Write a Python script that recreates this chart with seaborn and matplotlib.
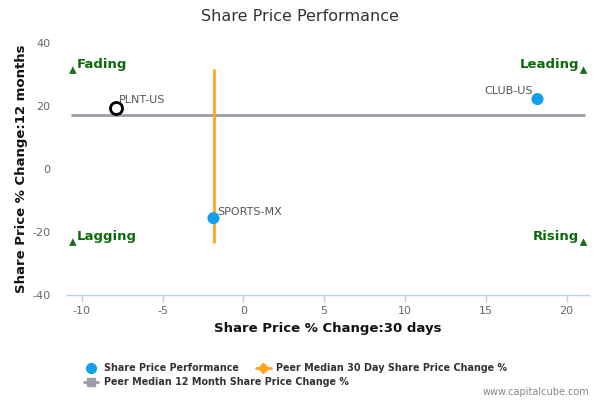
import matplotlib
matplotlib.use("Agg")
import matplotlib.pyplot as plt
import seaborn as sns
import pandas as pd
from matplotlib.lines import Line2D

sns.set_theme(style="white")
plt.rcParams['font.family'] = ['DejaVu Sans']

# Data
tickers = ["PLNT-US", "CLUB-US", "SPORTS-MX"]
change_30d = [-7.9, 18.2, -1.85]
change_12m = [19.4, 22.2, -15.6]
peer_median_30d = -1.8
peer_median_12m = 17.1
peer_30d_span = [-23.2, 31.4]
peer_12m_span = [-10.6, 21.05]
quadrants = ["Fading", "Leading", "Lagging", "Rising"]
quad_x = [-10.55, 21.05, -10.55, 21.05]
quad_y = [31.4, 31.4, -23.2, -23.2]
x_ticks = [-10, -5, 0, 5, 10, 15, 20]
y_ticks = [-40, -20, 0, 20, 40]

df = pd.DataFrame({"ticker": tickers, "x": change_30d, "y": change_12m})

fig = plt.figure(figsize=(6, 4), dpi=100)
ax = fig.add_axes([0.112, 0.2625, 0.87, 0.63])

blue = "#12a0ec"
orange = "#ffa51f"
grey = "#9b9ea8"
green = "#0b6b0b"

# peer median lines
ax.plot(peer_12m_span, [peer_median_12m, peer_median_12m], color=grey, lw=2, zorder=2)
ax.plot([peer_median_30d, peer_median_30d], peer_30d_span, color=orange, lw=2, zorder=2)

# points
subj = df[df.ticker == "PLNT-US"]
others = df[df.ticker != "PLNT-US"]
sns.scatterplot(data=others, x="x", y="y", ax=ax, color=blue, s=75, edgecolor="none", zorder=3, legend=False)
sns.scatterplot(data=subj, x="x", y="y", ax=ax, facecolor="white", edgecolor="black", linewidth=2, s=75, zorder=4, legend=False)

offsets = {"PLNT-US": (2, 2, "left"), "CLUB-US": (-3, 2, "right"), "SPORTS-MX": (3, 1, "left")}
for t, xv, yv in zip(tickers, change_30d, change_12m):
    dx, dy, ha = offsets[t]
    ax.annotate(t, (xv, yv), xytext=(dx, dy), textcoords="offset points", ha=ha, va="bottom",
                fontsize=8, color="#555555")

# quadrant markers
sns.scatterplot(x=quad_x, y=quad_y, ax=ax, marker="^", color="#1a6b1a", s=30, edgecolor="none", zorder=3, legend=False)
for q, xv, yv in zip(quadrants, quad_x, quad_y):
    ha = "left" if xv < 0 else "right"
    dx = 3 if xv < 0 else -3
    ax.annotate(q, (xv, yv), xytext=(dx, -1), textcoords="offset points", ha=ha, va="bottom",
                fontsize=9.5, fontweight="bold", color=green)

ax.set_xlim(-10.9, 21.4)
ax.set_ylim(-40, 40)
ax.set_xticks(x_ticks)
ax.set_yticks(y_ticks)
ax.set_xticklabels([str(v) for v in x_ticks], fontsize=8, color="#666666")
ax.set_yticklabels([str(v) for v in y_ticks], fontsize=8, color="#666666")
ax.tick_params(axis="x", length=5, color="#c0d0e0", width=1, pad=3, direction="out", bottom=True)
ax.tick_params(axis="y", length=0, pad=12)
for s in ["top", "right", "left"]:
    ax.spines[s].set_visible(False)
ax.spines["bottom"].set_color("#c0d0e0")
ax.spines["bottom"].set_linewidth(1)
ax.grid(False)

ax.set_xlabel("Share Price % Change:30 days", fontsize=9.5, fontweight="bold", color="#111111", labelpad=4)
ax.set_ylabel("Share Price % Change:12 months", fontsize=9.5, fontweight="bold", color="#111111", labelpad=3)

fig.text(0.5, 0.958, "Share Price Performance", ha="center", va="center", fontsize=11.5, color="#333333")

# legend
h1 = Line2D([], [], marker="o", color=blue, linestyle="none", markersize=7)
h2 = Line2D([], [], marker="D", color=orange, lw=2, markersize=5)
h3 = Line2D([], [], marker="s", color=grey, lw=2, markersize=6)
leg1 = fig.legend([h1, h2], ["Share Price Performance", "Peer Median 30 Day Share Price Change %"],
                  loc="center left", bbox_to_anchor=(0.14, 0.08), ncol=2, frameon=False,
                  prop={"size": 6.9, "weight": "bold"}, handlelength=1.5, handletextpad=0.6,
                  columnspacing=1.8, borderaxespad=0, borderpad=0)
for t in leg1.get_texts():
    t.set_color("#333333")
leg2 = fig.legend([h3], ["Peer Median 12 Month Share Price Change %"],
                  loc="center left", bbox_to_anchor=(0.14, 0.045), frameon=False,
                  prop={"size": 6.9, "weight": "bold"}, handlelength=1.5, handletextpad=0.6,
                  borderaxespad=0, borderpad=0)
for t in leg2.get_texts():
    t.set_color("#333333")

fig.text(0.982, 0.02, "www.capitalcube.com", ha="right", va="center", fontsize=7, color="#888888")

fig.savefig("out.png", dpi=100)
